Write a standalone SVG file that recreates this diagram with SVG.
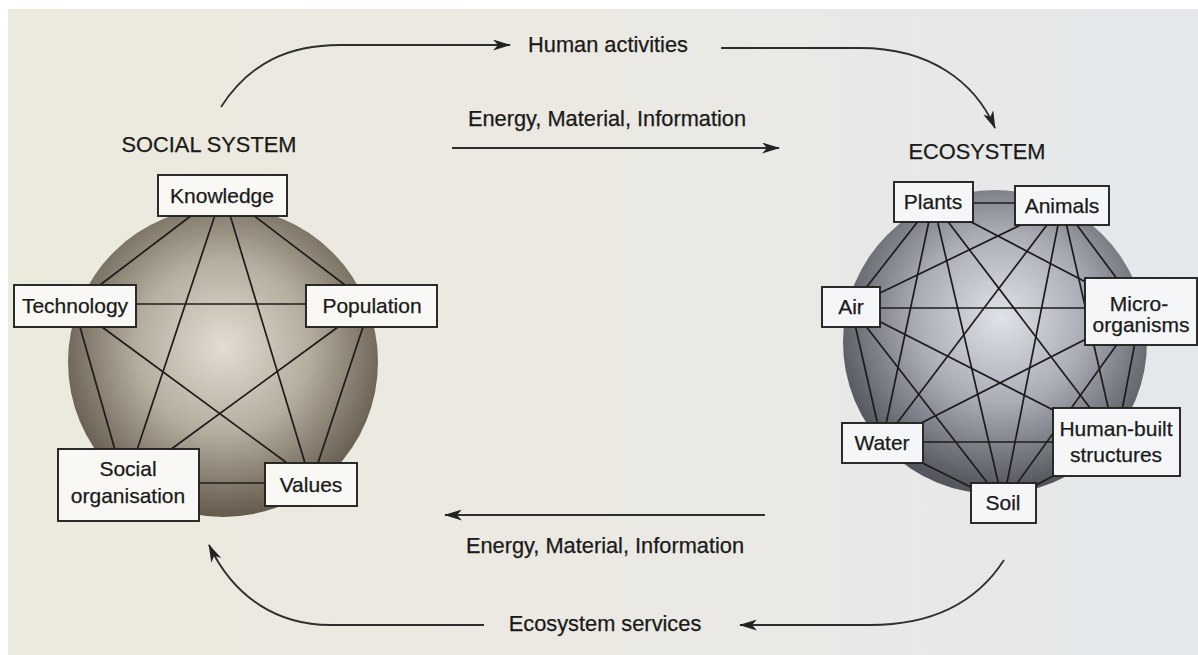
<svg xmlns="http://www.w3.org/2000/svg" width="1198" height="655" viewBox="0 0 1198 655">
  <defs>
    <linearGradient id="page" x1="0" y1="0" x2="1" y2="0">
      <stop offset="0" stop-color="#ece9dd"/>
      <stop offset="0.5" stop-color="#ebe9e2"/>
      <stop offset="1" stop-color="#e4e8ec"/>
    </linearGradient>
    <radialGradient id="sphereL" cx="0.5" cy="0.45" r="0.55">
      <stop offset="0" stop-color="#e2ddd3"/>
      <stop offset="0.5" stop-color="#b6ae9f"/>
      <stop offset="1" stop-color="#635a4c"/>
    </radialGradient>
    <radialGradient id="sphereR" cx="0.52" cy="0.42" r="0.56">
      <stop offset="0" stop-color="#dfe2e8"/>
      <stop offset="0.5" stop-color="#aaadb6"/>
      <stop offset="1" stop-color="#55575e"/>
    </radialGradient>
    <marker id="ah" viewBox="0 0 18 11" refX="17" refY="5.5" markerWidth="18" markerHeight="11" markerUnits="userSpaceOnUse" orient="auto">
      <path d="M0,0 L18,5.5 L0,11 L5,5.5 Z" fill="#222"/>
    </marker>
  </defs>
  <style>
    .lbl { font-family: "Liberation Sans", Arial, sans-serif; font-size: 21px; fill: #1a1a1a; stroke: #1a1a1a; stroke-width: 0.25; }
    .big { font-size: 21.8px; }
    .box { fill: #f9f8f4; stroke: #222; stroke-width: 1.9; }
    .boxr { fill: #f5f6f8; stroke: #222; stroke-width: 1.9; }
    .edge { stroke: #1c1c1c; stroke-width: 1.7; fill: none; }
    .flow { stroke: #2e2e2e; stroke-width: 1.8; fill: none; marker-end: url(#ah); }
  </style>

  <rect x="0" y="0" width="1198" height="655" fill="#ffffff"/>
  <rect x="8" y="9" width="1190" height="646" fill="url(#page)"/>

  <!-- Spheres -->
  <circle cx="223" cy="362" r="155" fill="url(#sphereL)"/>
  <circle cx="995" cy="342" r="152" fill="url(#sphereR)"/>

  <!-- Titles -->
  <text class="lbl big" x="209" y="152" text-anchor="middle">SOCIAL SYSTEM</text>
  <text class="lbl big" x="977" y="159" text-anchor="middle">ECOSYSTEM</text>

  <!-- Connectors -->
  <g id="connectors">
    <g id="social-edges">
      <line class="edge" x1="192" y1="215" x2="100" y2="285"/>
      <line class="edge" x1="215" y1="215" x2="137" y2="450"/>
      <line class="edge" x1="230" y1="215" x2="305" y2="463"/>
      <line class="edge" x1="253" y1="215" x2="345" y2="285"/>
      <line class="edge" x1="137" y1="304" x2="306" y2="304"/>
      <line class="edge" x1="102" y1="327" x2="287" y2="463"/>
      <line class="edge" x1="80" y1="327" x2="115" y2="450"/>
      <line class="edge" x1="338" y1="327" x2="170" y2="450"/>
      <line class="edge" x1="363" y1="327" x2="318" y2="463"/>
      <line class="edge" x1="199" y1="483" x2="265" y2="483"/>
    </g>
    <g id="eco-edges">
      <line class="edge" x1="933" y1="203" x2="1062" y2="203"/>
      <line class="edge" x1="933" y1="202" x2="851" y2="307"/>
      <line class="edge" x1="933" y1="202" x2="1141" y2="311"/>
      <line class="edge" x1="933" y1="202" x2="882" y2="443"/>
      <line class="edge" x1="933" y1="202" x2="1116" y2="442"/>
      <line class="edge" x1="933" y1="202" x2="1003" y2="503"/>
      <line class="edge" x1="1062" y1="205" x2="851" y2="307"/>
      <line class="edge" x1="1062" y1="205" x2="1141" y2="311"/>
      <line class="edge" x1="1062" y1="205" x2="882" y2="443"/>
      <line class="edge" x1="1062" y1="205" x2="1116" y2="442"/>
      <line class="edge" x1="1062" y1="205" x2="1003" y2="503"/>
      <line class="edge" x1="851" y1="308" x2="1141" y2="308"/>
      <line class="edge" x1="851" y1="307" x2="882" y2="443"/>
      <line class="edge" x1="851" y1="307" x2="1116" y2="442"/>
      <line class="edge" x1="851" y1="307" x2="1003" y2="503"/>
      <line class="edge" x1="1141" y1="311" x2="882" y2="443"/>
      <line class="edge" x1="1141" y1="311" x2="1116" y2="442"/>
      <line class="edge" x1="1141" y1="311" x2="1003" y2="503"/>
      <line class="edge" x1="882" y1="442" x2="1116" y2="442"/>
      <line class="edge" x1="882" y1="443" x2="1003" y2="503"/>
      <line class="edge" x1="1116" y1="442" x2="1003" y2="503"/>
    </g>
    <g id="flows">
      <path class="flow" d="M221,107 C250,62 290,45 340,45 L510,45"/>
      <path class="flow" d="M721,48 L860,48 C930,48 975,82 995,128"/>
      <path class="flow" d="M452,148 L779,148"/>
      <path class="flow" d="M765,515 L445,515"/>
      <path class="flow" d="M484,625 L330,625 C280,625 235,600 209,545"/>
      <path class="flow" d="M1004,560 C975,605 930,625 870,625 L740,625"/>
    </g>
  </g>

  <!-- Flow labels -->
  <text class="lbl big" x="608" y="52" text-anchor="middle">Human activities</text>
  <text class="lbl big" x="607" y="126" text-anchor="middle">Energy, Material, Information</text>
  <text class="lbl big" x="605" y="553" text-anchor="middle">Energy, Material, Information</text>
  <text class="lbl big" x="605" y="631" text-anchor="middle">Ecosystem services</text>

  <!-- Social system nodes -->
  <g id="knowledge">
    <rect class="box" x="158" y="175" width="129" height="41"/>
    <text class="lbl" x="222" y="203" text-anchor="middle">Knowledge</text>
  </g>
  <g id="technology">
    <rect class="box" x="14" y="285" width="122" height="42"/>
    <text class="lbl" x="75" y="313" text-anchor="middle">Technology</text>
  </g>
  <g id="population">
    <rect class="box" x="306" y="285" width="131" height="42"/>
    <text class="lbl" x="372" y="313" text-anchor="middle">Population</text>
  </g>
  <g id="social-organisation">
    <rect class="box" x="58" y="449" width="141" height="72"/>
    <text class="lbl" x="128" y="476" text-anchor="middle">Social</text>
    <text class="lbl" x="128" y="503" text-anchor="middle">organisation</text>
  </g>
  <g id="values">
    <rect class="box" x="265" y="463" width="92" height="43"/>
    <text class="lbl" x="311" y="492" text-anchor="middle">Values</text>
  </g>

  <!-- Ecosystem nodes -->
  <g id="plants">
    <rect class="boxr" x="894" y="182" width="79" height="40"/>
    <text class="lbl" x="933" y="209" text-anchor="middle">Plants</text>
  </g>
  <g id="animals">
    <rect class="boxr" x="1015" y="186" width="94" height="39"/>
    <text class="lbl" x="1062" y="213" text-anchor="middle">Animals</text>
  </g>
  <g id="air">
    <rect class="boxr" x="822" y="287" width="58" height="40"/>
    <text class="lbl" x="851" y="314" text-anchor="middle">Air</text>
  </g>
  <g id="micro-organisms">
    <rect class="boxr" x="1085" y="278" width="112" height="67"/>
    <text class="lbl" x="1139" y="311" text-anchor="middle">Micro-</text>
    <text class="lbl" x="1141" y="332" text-anchor="middle">organisms</text>
  </g>
  <g id="water">
    <rect class="boxr" x="842" y="423" width="81" height="40"/>
    <text class="lbl" x="882" y="450" text-anchor="middle">Water</text>
  </g>
  <g id="human-built-structures">
    <rect class="boxr" x="1053" y="408" width="127" height="68"/>
    <text class="lbl" x="1116" y="436" text-anchor="middle">Human-built</text>
    <text class="lbl" x="1116" y="462" text-anchor="middle">structures</text>
  </g>
  <g id="soil">
    <rect class="boxr" x="971" y="483" width="65" height="40"/>
    <text class="lbl" x="1003" y="510" text-anchor="middle">Soil</text>
  </g>
</svg>
